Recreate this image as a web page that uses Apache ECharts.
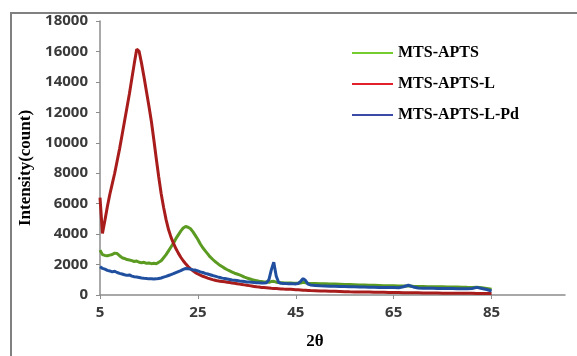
<!DOCTYPE html>
<html>
<head>
<meta charset="utf-8">
<script src="https://cdn.jsdelivr.net/npm/echarts@6/dist/echarts.min.js"></script>
<style>
  html, body { margin: 0; padding: 0; background: #fff; }
  #chart { width: 577px; height: 356px; }
</style>
</head>
<body>
<div id="chart"></div>
<script>
// 2θ positions (0.5° steps up to 48, then 1° steps)
const twoTheta = [
  5, 5.5, 6, 6.5, 7, 7.5, 8, 8.5, 9, 9.5, 10, 10.5, 11, 11.5, 12, 12.5, 13, 13.5, 14, 14.5,
  15, 15.5, 16, 16.5, 17, 17.5, 18, 18.5, 19, 19.5, 20, 20.5, 21, 21.5, 22, 22.5, 23, 23.5, 24, 24.5,
  25, 25.5, 26, 26.5, 27, 27.5, 28, 28.5, 29, 29.5, 30, 30.5, 31, 31.5, 32, 32.5, 33, 33.5, 34, 34.5,
  35, 35.5, 36, 36.5, 37, 37.5, 38, 38.5, 39, 39.5, 40, 40.5, 41, 41.5, 42, 42.5, 43, 43.5, 44, 44.5,
  45, 45.5, 46, 46.5, 47, 47.5, 48,
  49, 50, 51, 52, 53, 54, 55, 56, 57, 58, 59, 60, 61, 62, 63, 64, 65, 66, 67, 68,
  69, 70, 71, 72, 73, 74, 75, 76, 77, 78, 79, 80, 81, 82, 83, 84, 85
];

const mtsApts = [
  2950, 2650, 2600, 2580, 2620, 2660, 2750, 2720, 2580, 2450, 2400, 2330, 2300, 2260, 2200, 2230, 2150, 2120, 2150, 2080,
  2100, 2060, 2080, 2050, 2150, 2250, 2450, 2650, 2900, 3150, 3400, 3700, 3950, 4200, 4400, 4500, 4450, 4350, 4150, 3900,
  3650, 3350, 3100, 2900, 2700, 2500, 2350, 2200, 2080, 1950, 1850, 1750, 1660, 1580, 1500, 1430, 1380, 1320, 1260, 1180,
  1120, 1070, 1020, 980, 940, 900, 880, 860, 850, 840, 880, 900, 840, 820, 810, 800, 795, 790, 785, 780,
  775, 770, 790, 830, 800, 770, 760,
  755, 745, 735, 725, 715, 705, 695, 685, 675, 665, 655, 645, 635, 625, 615, 605, 600, 590, 585, 590,
  570, 560, 555, 550, 545, 540, 535, 530, 525, 520, 515, 505, 500, 505, 475, 430, 380
];

const mtsAptsL = [
  6400, 4050, 4900, 5800, 6600, 7300, 8000, 8800, 9600, 10500, 11400, 12300, 13200, 14200, 15200, 16150, 16000, 15200, 14300, 13350,
  12400, 11400, 10200, 8950, 7750, 6650, 5750, 4950, 4300, 3800, 3400, 3050, 2750, 2480, 2250, 2050, 1870, 1720, 1590, 1470,
  1380, 1300, 1230, 1170, 1110, 1060, 1010, 970, 930, 910, 890, 865, 840, 815, 790, 765, 740, 715, 690, 665,
  640, 615, 590, 565, 540, 520, 500, 485, 470, 455, 440, 430, 420, 410, 400, 392, 385, 378, 370, 360,
  350, 340, 330, 320, 310, 300, 290,
  280, 270, 260, 250, 240, 230, 220, 210, 205, 200, 195, 190, 185, 180, 175, 170, 165, 160, 155, 150,
  145, 140, 135, 130, 128, 125, 122, 120, 118, 115, 113, 110, 108, 106, 104, 102, 100
];

const mtsAptsLPd = [
  1850, 1750, 1700, 1620, 1580, 1520, 1560, 1480, 1420, 1380, 1330, 1290, 1320, 1240, 1200, 1180, 1150, 1120, 1100, 1090,
  1060, 1070, 1050, 1060, 1090, 1120, 1170, 1220, 1280, 1340, 1400, 1470, 1540, 1600, 1680, 1740, 1720, 1700, 1650, 1640,
  1580, 1520, 1480, 1420, 1380, 1330, 1280, 1240, 1190, 1150, 1110, 1080, 1050, 1020, 990, 970, 950, 920, 900, 880,
  860, 850, 830, 820, 810, 800, 790, 790, 810, 1000, 1650, 2150, 1250, 820, 770, 760, 750, 745, 740, 735,
  730, 760, 900, 1080, 950, 720, 660,
  630, 600, 590, 580, 570, 560, 555, 545, 540, 530, 525, 515, 510, 500, 495, 490, 485, 480, 540, 640,
  530, 460, 450, 445, 440, 435, 430, 425, 420, 415, 410, 405, 430, 500, 430, 360, 260
];

const seriesNames = ['MTS-APTS', 'MTS-APTS-L', 'MTS-APTS-L-Pd'];
const legendColors = ['#74cc30', '#e0202c', '#3a4aa6'];
const lineColors = ['#5b9b22', '#a81c1c', '#1f4f9e'];
const xTicks = [5, 25, 45, 65, 85];

const pairs = (ys) => twoTheta.map((x, i) => [x, ys[i]]);

const chart = echarts.init(document.getElementById('chart'));

const serifBold = { fontFamily: 'Liberation Serif', fontWeight: 'bold', color: '#000' };
const tickFont = { fontFamily: 'Open Sans', fontWeight: 'bold', fontSize: 15, color: '#3a3a3a' };

const option = {
  animation: false,
  backgroundColor: '#fff',
  graphic: [
    {
      type: 'rect',
      shape: { x: 11, y: 13, width: 700, height: 500 },
      style: { fill: 'none', stroke: '#808080', lineWidth: 2 },
      silent: true
    }
  ],
  grid: { left: 100, top: 21, right: 12, bottom: 61 },
  legend: {
    orient: 'vertical',
    left: 352,
    top: 45,
    padding: 0,
    icon: 'rect',
    itemWidth: 41,
    itemHeight: 2,
    itemGap: 15,
    textStyle: Object.assign({ fontSize: 16 }, serifBold),
    data: seriesNames.map((name, i) => ({ name, itemStyle: { color: legendColors[i] } }))
  },
  xAxis: {
    type: 'value',
    min: 5,
    max: 100,
    interval: 20,
    name: '2θ',
    nameLocation: 'middle',
    nameGap: 38,
    nameTextStyle: Object.assign({ fontSize: 17, padding: [0, 35, 0, 0] }, serifBold),
    splitLine: { show: false },
    axisLine: { lineStyle: { color: '#8c8c8c', width: 1.5 } },
    axisTick: { show: true, length: 4, customValues: xTicks, lineStyle: { color: '#8c8c8c' } },
    axisLabel: Object.assign({ margin: 10, customValues: xTicks, formatter: (v) => String(v) }, tickFont)
  },
  yAxis: {
    type: 'value',
    min: 0,
    max: 18000,
    interval: 2000,
    name: 'Intensity(count)',
    nameLocation: 'middle',
    nameGap: 48,
    nameRotate: 90,
    nameTextStyle: Object.assign({ fontSize: 17, padding: [0, 20, 0, 0] }, serifBold),
    splitLine: { show: false },
    axisLine: { show: true, lineStyle: { color: '#8c8c8c', width: 1.5 } },
    axisTick: { show: true, length: 4, lineStyle: { color: '#8c8c8c' } },
    axisLabel: Object.assign({ margin: 12, formatter: (v) => String(v) }, tickFont)
  },
  series: seriesNames.map((name, i) => ({
    name,
    type: 'line',
    data: pairs([mtsApts, mtsAptsL, mtsAptsLPd][i]),
    symbol: 'none',
    lineStyle: { color: lineColors[i], width: 3 },
    itemStyle: { color: lineColors[i] }
  }))
};

chart.setOption(option);
</script>
</body>
</html>
